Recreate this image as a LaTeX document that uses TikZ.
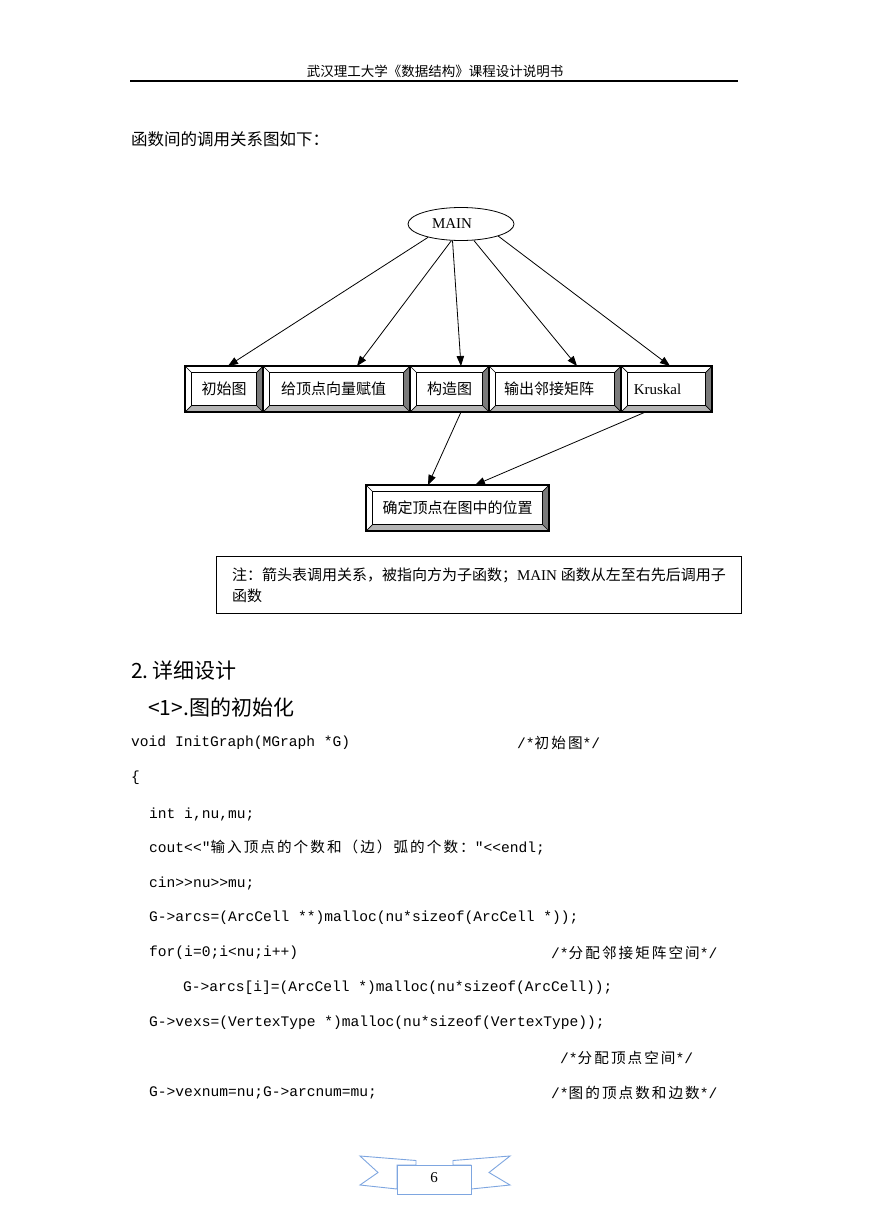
\documentclass[tikz,border=0pt]{standalone}
\usepackage{fontspec}
\usepackage{xcolor}
\usepackage{tikz}
\usetikzlibrary{shapes.geometric,arrows.meta,positioning}
\setmainfont{Liberation Serif}
\setmonofont{Liberation Mono}
\newfontfamily\cjk{Noto Sans CJK SC}
\newfontfamily\cjkm[LetterSpace=14]{Noto Sans CJK SC}
\definecolor{ribbon}{HTML}{7EA6E0}
\definecolor{bevdark}{HTML}{7A7A7A}
\definecolor{bevmid}{HTML}{B4B4B4}

% bevel frame round a named box
\newcommand\bevelsides[1]{%
  \fill[bevdark] (#1.north east) -- (#1.south east) -- ([shift={(-6.5pt,6.5pt)}]#1.south east) -- ([shift={(-6.5pt,-6.5pt)}]#1.north east) -- cycle;
  \fill[bevmid] (#1.south east) -- (#1.south west) -- ([shift={(6.5pt,6.5pt)}]#1.south west) -- ([shift={(-6.5pt,6.5pt)}]#1.south east) -- cycle;
  \draw[line width=0.7pt] ([shift={(6.5pt,-6.5pt)}]#1.north west) rectangle ([shift={(-6.5pt,6.5pt)}]#1.south east);
  \draw[line width=0.7pt] (#1.north west) -- ([shift={(6.5pt,-6.5pt)}]#1.north west)
    (#1.north east) -- ([shift={(-6.5pt,-6.5pt)}]#1.north east)
    (#1.south east) -- ([shift={(-6.5pt,6.5pt)}]#1.south east)
    (#1.south west) -- ([shift={(6.5pt,6.5pt)}]#1.south west);
  \draw[line width=1.3pt] (#1.north west) rectangle (#1.south east);
}

\begin{document}
\begin{tikzpicture}[x=1pt,y=-1pt,
    box/.style={draw,line width=1.3pt,fill=white,minimum height=46pt,inner sep=0pt,outer sep=0pt,font=\fontsize{15}{18}\selectfont},
    main/.style={draw,ellipse,line width=0.8pt,minimum width=106pt,minimum height=33pt,inner sep=0pt,font=\fontsize{15}{18}\selectfont},
    txt/.style={inner sep=0pt,anchor=west,font=\fontsize{16.5}{21}\selectfont},
    head/.style={inner sep=0pt,anchor=west,font=\fontsize{21}{24}\selectfont\cjk},
    codeline/.style={inner sep=0pt,anchor=west,font=\fontsize{14.6}{17}\selectfont\ttfamily},
    note/.style={draw,line width=0.8pt,anchor=north west,minimum width=525pt,minimum height=57pt,align=left,inner xsep=11pt,font=\fontsize{15}{21}\selectfont},
    arrow/.style={-{Triangle[length=10pt,width=7.5pt]},line width=0.8pt}
  ]
  \useasboundingbox (0,0) rectangle (869,1228);
  \fill[white] (0,0) rectangle (869,1228);

  % page header
  \node[inner sep=0pt,font=\fontsize{13.5}{16}\selectfont\cjk] (title) at (435,71) {武汉理工大学《数据结构》课程设计说明书};
  \draw[line width=1.2pt] (130,81) -- (738,81);

  \node[txt] (intro) at (131,139) {\cjk 函数间的调用关系图如下：};

  % call graph
  \node[main] (mainf) at (461,224) {MAIN\kern18pt};

  \node[box,minimum width=78pt] (b1) at (224,389) {\cjk 初始图};
  \node[box,minimum width=147pt,right=0pt of b1] (b2) {\cjk 给顶点向量赋值\kern6pt};
  \node[box,minimum width=79pt,right=0pt of b2] (b3) {\cjk 构造图};
  \node[box,minimum width=132pt,right=0pt of b3] (b4) {\cjk 输出邻接矩阵\kern12pt};
  \node[box,minimum width=91pt,right=0pt of b4] (b5) {Kruskal\kern18pt};
  \node[box,minimum width=183pt] (pos) at (457.5,508) {\cjk 确定顶点在图中的位置};

  \foreach \b in {b1,b2,b3,b4,b5,pos} {\bevelsides{\b}}

  \coordinate (t1) at ([xshift=4pt]b1.north);
  \coordinate (t2) at ([xshift=20.5pt]b2.north);
  \coordinate (t3) at ([xshift=11.5pt]b3.north);
  \coordinate (t4) at ([xshift=22pt]b4.north);
  \coordinate (t5) at ([xshift=3.5pt]b5.north);
  \coordinate (s3) at ([xshift=11.5pt]b3.south);
  \coordinate (s5) at ([xshift=-21pt]b5.south);
  \coordinate (u1) at ([xshift=-29.5pt]pos.north);
  \coordinate (u2) at ([xshift=17.5pt]pos.north);

  \draw[arrow] (mainf.202) -- (t1);
  \draw[arrow] (mainf.240) -- (t2);
  \draw[arrow] (mainf.243) -- (t3);
  \draw[arrow] (mainf.308) -- (t4);
  \draw[arrow] (mainf.342) -- (t5);
  \draw[arrow] (s3) -- (u1);
  \draw[arrow] (s5) -- (u2);

  \node[note] (remark) at (216,556) {\cjk 注：箭头表调用关系，被指向方为子函数；\rmfamily MAIN \cjk 函数从左至右先后调用子\\\cjk 函数};

  % detailed design
  \node[head] (h1) at (131,671) {2.\kern4pt详细设计};
  \node[head] (h2) at (148,707) {<1>.图的初始化};

  \node[codeline] (c1) at (131,743) {void InitGraph(MGraph *G)};
  \node[codeline] (m1) at (517,743) {/*{\cjkm 初始图}*/};
  \node[codeline] (c2) at (131,778) {\{};
  \node[codeline] (c3) at (149,814) {int i,nu,mu;};
  \node[codeline] (c4) at (149,848) {cout<<"{\cjkm 输入顶点的个数和（边）弧的个数：}"<<endl;};
  \node[codeline] (c5) at (149,883) {cin>>nu>>mu;};
  \node[codeline] (c6) at (149,918) {G->arcs=(ArcCell **)malloc(nu*sizeof(ArcCell *));};
  \node[codeline] (c7) at (149,953) {for(i=0;i<nu;i++)};
  \node[codeline] (m7) at (551,953) {/*{\cjkm 分配邻接矩阵空间}*/};
  \node[codeline] (c8) at (183,988) {G->arcs[i]=(ArcCell *)malloc(nu*sizeof(ArcCell));};
  \node[codeline] (c9) at (149,1023) {G->vexs=(VertexType *)malloc(nu*sizeof(VertexType));};
  \node[codeline] (m9) at (560,1058) {/*{\cjkm 分配顶点空间}*/};
  \node[codeline] (c10) at (149,1093) {G->vexnum=nu;G->arcnum=mu;};
  \node[codeline] (m10) at (551,1093) {/*{\cjkm 图的顶点数和边数}*/};

  % page number ribbon
  \draw[ribbon,line width=0.9pt,fill=white] (360,1156) -- (416,1160.5) -- (416,1165) -- (397,1165) -- (397,1189) -- (360,1185) -- (378,1172.5) -- cycle;
  \draw[ribbon,line width=0.9pt,fill=white] (510,1156) -- (453,1160.5) -- (453,1165) -- (471,1165) -- (471,1189) -- (510,1185) -- (489,1172.5) -- cycle;
  \draw[ribbon,line width=0.9pt,fill=white] (397,1165) rectangle (471,1194);
  \node[inner sep=0pt,font=\fontsize{15}{18}\selectfont] (pageno) at (434,1178) {6};
\end{tikzpicture}
\end{document}
